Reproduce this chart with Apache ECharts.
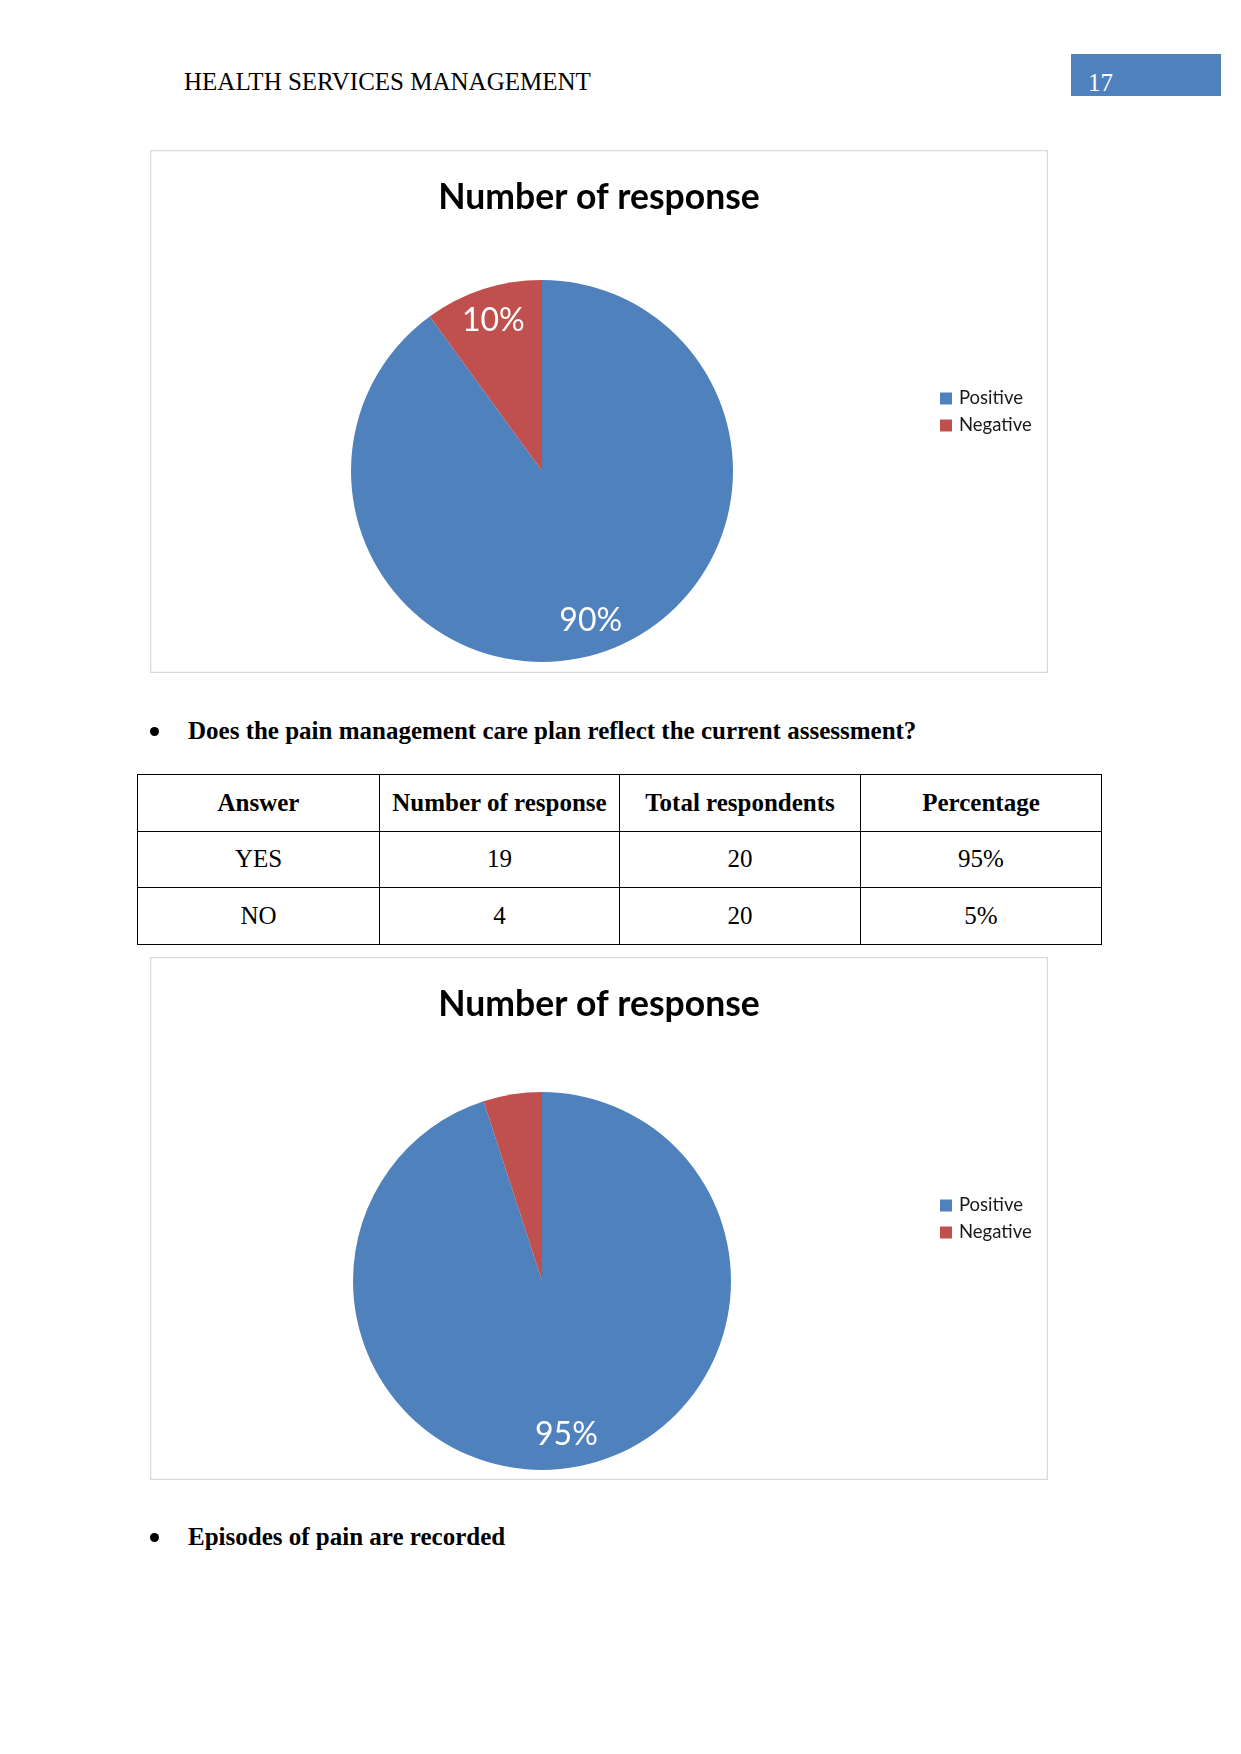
<!DOCTYPE html>
<html>
<head>
<meta charset="utf-8">
<script src="https://cdn.jsdelivr.net/npm/echarts@6/dist/echarts.min.js"></script>
<style>
  html, body { margin: 0; padding: 0; background: #fff; }
  #page { position: relative; width: 1241px; height: 1754px; overflow: hidden; background: #fff; }
  .serif { font-family: "Liberation Serif", "Times New Roman", serif; color: #000; }
  .abs { position: absolute; white-space: nowrap; }
  #hdr { left: 184px; top: 69px; font-size: 25px; line-height: 25px; }
  #pgbox { left: 1071px; top: 54px; width: 150px; height: 42px; background: #4f81bd; }
  #pgnum { left: 1088px; top: 70px; font-size: 25px; line-height: 25px; color: #fff; }
  .bullet-dot { position: absolute; width: 9px; height: 9px; border-radius: 50%; background: #000; }
  .btext { font-size: 25px; line-height: 25px; font-weight: bold; }
  table.data { position: absolute; left: 137px; top: 774px; width: 964px; border-collapse: collapse; table-layout: fixed; }
  table.data td { border: 1.3px solid #000; height: 55.5px; padding: 0; text-align: center; vertical-align: middle; font-size: 25px; font-family: "Liberation Serif", "Times New Roman", serif; }
  table.data tr.head td { font-weight: bold; }
  .chart { position: absolute; left: 150px; width: 898px; height: 523px; }
</style>
</head>
<body>
<div id="page">
  <div id="hdr" class="abs serif">HEALTH SERVICES MANAGEMENT</div>
  <div id="pgbox" class="abs"></div>
  <div id="pgnum" class="abs serif">17</div>

  <div id="chart1" class="chart" style="top:150px;"></div>

  <div class="bullet-dot" style="left:150px; top:727px;"></div>
  <div class="abs serif btext" style="left:188px; top:718px;">Does the pain management care plan reflect the current assessment?</div>

  <table class="data" id="tbl"></table>

  <div id="chart2" class="chart" style="top:957px;"></div>

  <div class="bullet-dot" style="left:150px; top:1533px;"></div>
  <div class="abs serif btext" style="left:188px; top:1524px;">Episodes of pain are recorded</div>
</div>

<script>
// ---- Data ----
const categories = ['Positive', 'Negative'];
const chart1Values = [90, 10];
const chart2Values = [95, 5];
const chart1LabelShown = [true, true];
const chart2LabelShown = [true, false];
const chartTitle = 'Number of response';

const tableHeader = ['Answer', 'Number of response', 'Total respondents', 'Percentage'];
const tableAnswers = ['YES', 'NO'];
const tableResponses = [19, 4];
const tableTotals = [20, 20];
const tablePercentages = ['95%', '5%'];

const sliceColors = ['#4f81bd', '#c0504d'];

// ---- Table ----
(function buildTable() {
  const t = document.getElementById('tbl');
  let html = '<colgroup><col style="width:242px"><col style="width:240px"><col style="width:241px"><col style="width:241px"></colgroup>';
  html += '<tr class="head">' + tableHeader.map(h => '<td>' + h + '</td>').join('') + '</tr>';
  for (let i = 0; i < tableAnswers.length; i++) {
    html += '<tr><td>' + tableAnswers[i] + '</td><td>' + tableResponses[i] + '</td><td>' +
      tableTotals[i] + '</td><td>' + tablePercentages[i] + '</td></tr>';
  }
  t.innerHTML = html;
})();

// ---- Charts ----
function makeChart(domId, values, labelShown, center, R) {
  const chart = echarts.init(document.getElementById(domId), null, { renderer: 'canvas' });
  const baseData = categories.map((name, i) => ({
    name: name, value: values[i], itemStyle: { color: sliceColors[i] }
  }));
  const labelData = categories.map((name, i) => ({
    name: name, value: values[i],
    label: { show: labelShown[i] }
  }));
  chart.setOption({
    animation: false,
    title: {
      text: chartTitle,
      left: 'center',
      top: 25,
      textStyle: { fontFamily: 'Lato', fontWeight: 'bold', fontSize: 35.5, color: '#000' }
    },
    legend: {
      orient: 'vertical',
      left: 785,
      top: 234,
      itemWidth: 12,
      itemHeight: 12,
      itemGap: 8,
      icon: 'rect',
      data: categories,
      selectedMode: false,
      textStyle: { fontFamily: 'Lato', fontSize: 18.5, color: '#1a1a1a', padding: [0, 0, 0, 2] }
    },
    graphic: [{
      type: 'rect', silent: true,
      shape: { x: 0.5, y: 0.5, width: 897, height: 522 },
      style: { fill: 'none', stroke: '#d9d9d9', lineWidth: 1.5 }
    }],
    series: [
      {
        type: 'pie',
        center: center,
        radius: [0, R],
        startAngle: 90,
        clockwise: true,
        silent: true,
        label: { show: false },
        labelLine: { show: false },
        itemStyle: { borderWidth: 0 },
        data: baseData
      },
      {
        type: 'pie',
        center: center,
        radius: [R * 0.62, R],
        startAngle: 90,
        clockwise: true,
        silent: true,
        itemStyle: { color: 'rgba(0,0,0,0)', borderWidth: 0 },
        label: {
          position: 'inside',
          formatter: '{c}%',
          fontFamily: 'Lato',
          fontSize: 32,
          color: '#fff'
        },
        labelLine: { show: false },
        legendHoverLink: false,
        data: labelData
      }
    ]
  });
  return chart;
}

makeChart('chart1', chart1Values, chart1LabelShown, [392, 321], 191);
makeChart('chart2', chart2Values, chart2LabelShown, [392, 324], 189);
</script>
</body>
</html>
